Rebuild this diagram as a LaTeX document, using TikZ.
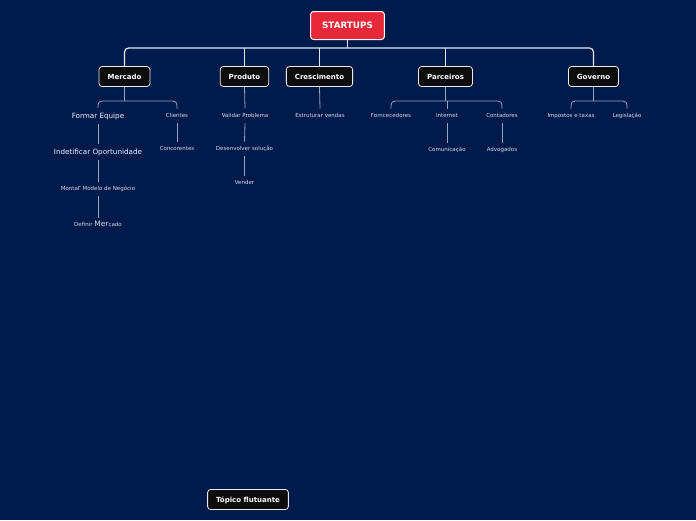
\documentclass[tikz,border=0pt]{standalone}
\usepackage{fontspec}
\setmainfont{DejaVu Sans}
\definecolor{bg}{HTML}{001B4B}
\definecolor{rootred}{HTML}{E8293A}
\definecolor{lineA}{HTML}{E2E6EE}
\definecolor{lineB}{HTML}{97A3BD}
\definecolor{txt}{HTML}{D2D8E4}
\tikzset{
  rootbox/.style={draw=white, line width=1pt, fill=rootred, rounded corners=3pt, text=white,
    font=\bfseries\fontsize{8.8}{10}\selectfont, minimum height=28pt, inner xsep=11.5pt,
    text height=6.4pt, text depth=0pt},
  topicbox/.style={draw=white!85!gray, line width=0.8pt, fill=black!95, rounded corners=3pt, text=white,
    font=\bfseries\fontsize{7}{8}\selectfont, minimum height=20pt, inner xsep=8.5pt,
    text height=5.2pt, text depth=0pt},
  bigtxt/.style={text=white!94!blue, font=\fontsize{7.2}{8}\selectfont, inner ysep=5pt, inner xsep=1pt,
    text height=5.2pt, text depth=0.6pt},
  smalltxt/.style={text=txt, font=\fontsize{5.5}{6}\selectfont, inner ysep=5pt, inner xsep=1pt,
    text height=4pt, text depth=0.5pt},
  connA/.style={draw=lineA, line width=1.2pt, rounded corners=4pt},
  connB/.style={draw=lineB, line width=0.8pt, rounded corners=4pt},
}
\begin{document}
\begin{tikzpicture}[x=1pt,y=-1pt]
\fill[bg] (0,0) rectangle (696,520);
\useasboundingbox (0,0) rectangle (696,520);

% root
\node[rootbox] (root) at (347.5,25.5) {STARTUPS};

% main topics
\node[topicbox] (mercado) at (124.5,76.5) {Mercado};
\node[topicbox] (produto) at (244.5,76.5) {Produto};
\node[topicbox] (cresc) at (319.5,76.5) {Crescimento};
\node[topicbox] (parc) at (445.5,76.5) {Parceiros};
\node[topicbox] (gov) at (593.5,76.5) {Governo};

\coordinate (bar0) at (0,48);
\draw[connA] (root.south) -- (root.south |- bar0);
\draw[connA] (mercado.north) -- (mercado.north |- bar0) -- (gov.north |- bar0) -- (gov.north);
\draw[connA] (produto.north) -- (produto.north |- bar0);
\draw[connA] (cresc.north) -- (cresc.north |- bar0);
\draw[connA] (parc.north) -- (parc.north |- bar0);

% Mercado subtopics
\node[bigtxt] (formar) at (98,116) {Formar Equipe};
\node[smalltxt] (clientes) at (177,116) {Clientes};
\node[bigtxt] (indet) at (98,152) {Indetificar Oportunidade};
\node[smalltxt] (montar) at (98,189) {Monta{\fontsize{7}{7}\selectfont r} Modelo de Negócio};
\node[smalltxt] (definir) at (98,225) {Definir {\fontsize{7.5}{7}\selectfont Mer}cado};
\node[smalltxt] (concor) at (177,149) {Concorentes};

\coordinate (bar1) at (0,101);
\draw[connB] (mercado.south) -- (mercado.south |- bar1);
\draw[connB] (formar.north) -- (formar.north |- bar1) -- (clientes.north |- bar1) -- (clientes.north);
\draw[connB] (formar.south) -- (indet.north);
\draw[connB] (indet.south) -- (montar.north);
\draw[connB] (montar.south) -- (definir.north);
\draw[connB] (clientes.south) -- (concor.north);

% Produto subtopics
\node[smalltxt] (validar) at (245,116) {Validar Problema};
\node[smalltxt] (desenv) at (244.5,149) {Desenvolver solução};
\node[smalltxt] (vender) at (244.5,183) {Vender};
\draw[connB] (produto.south) -- (validar.north);
\draw[connB] (validar.south) -- (desenv.north);
\draw[connB] (desenv.south) -- (vender.north);

% Crescimento
\node[smalltxt] (estrut) at (320,116) {Estruturar vendas};
\draw[connB] (cresc.south) -- (estrut.north);

% Parceiros
\node[smalltxt] (forn) at (391,116) {Forncecedores};
\node[smalltxt] (internet) at (447,116) {Internet};
\node[smalltxt] (contad) at (502,116) {Contadores};
\node[smalltxt] (comun) at (447,150) {Comunicação};
\node[smalltxt] (advog) at (502,150) {Advogados};
\draw[connB] (parc.south) -- (parc.south |- bar1);
\draw[connB] (forn.north) -- (forn.north |- bar1) -- (contad.north |- bar1) -- (contad.north);
\draw[connB] (internet.north) -- (internet.north |- bar1);
\draw[connB] (internet.south) -- (comun.north);
\draw[connB] (contad.south) -- (advog.north);

% Governo
\node[smalltxt] (impostos) at (571,116) {Impostos e taxas};
\node[smalltxt] (legis) at (627,116) {Legislação};
\draw[connB] (gov.south) -- (gov.south |- bar1);
\draw[connB] (impostos.north) -- (impostos.north |- bar1) -- (legis.north |- bar1) -- (legis.north);

% floating
\node[topicbox] (flut) at (248,499.5) {Tópico flutuante};
\end{tikzpicture}
\end{document}
